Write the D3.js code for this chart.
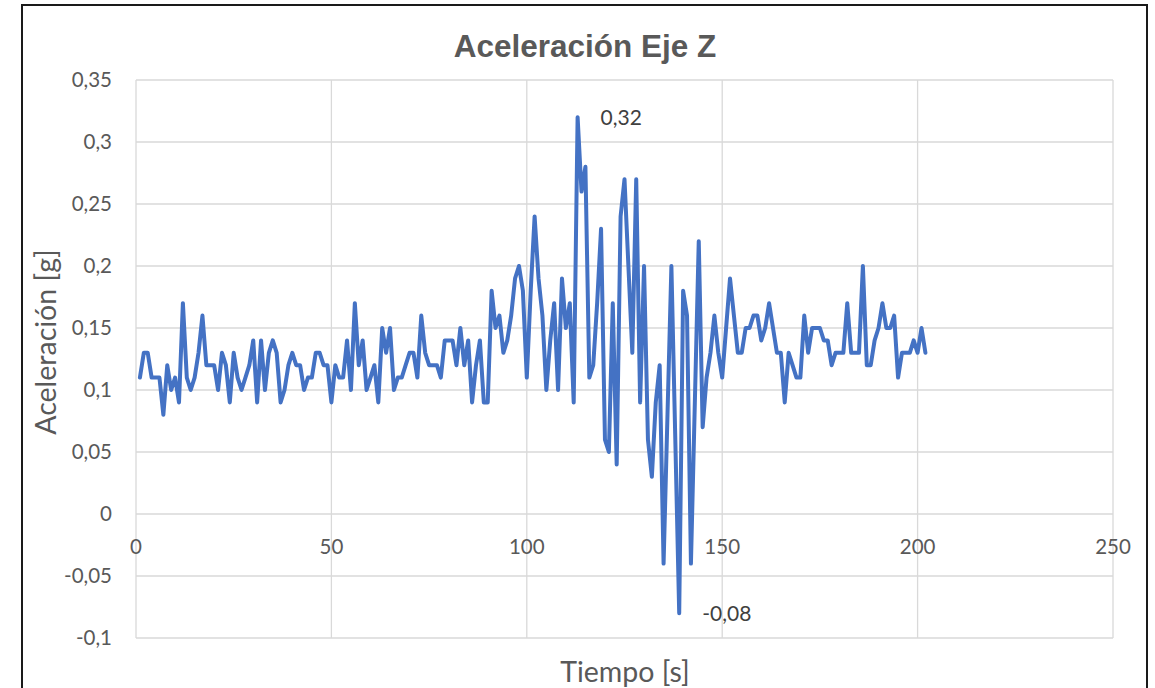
<!DOCTYPE html>
<html>
<head>
<meta charset="utf-8">
<script src="https://cdn.jsdelivr.net/npm/d3@7"></script>
<style>
  body { margin: 0; background: #fff; }
  .tick-label { font-family: Lato, "Open Sans", sans-serif; font-size: 20.5px; fill: #595959; }
  .axis-title { font-family: Lato, "Open Sans", sans-serif; font-size: 28.5px; fill: #595959; }
  .chart-title { font-family: "Liberation Sans", Arial, sans-serif; font-size: 31.5px; font-weight: bold; fill: #595959; }
  .data-label { font-family: Lato, "Open Sans", sans-serif; font-size: 21px; fill: #404040; }
</style>
</head>
<body>
<svg class="chart" width="1155" height="688"></svg>
<script>
"use strict";

// one sample per second, starting at t = 1 s
var startTime = 1;
var accel = [
  0.11, 0.13, 0.13, 0.11, 0.11, 0.11, 0.08, 0.12, 0.10, 0.11,
  0.09, 0.17, 0.11, 0.10, 0.11, 0.13, 0.16, 0.12, 0.12, 0.12,
  0.10, 0.13, 0.12, 0.09, 0.13, 0.11, 0.10, 0.11, 0.12, 0.14,
  0.09, 0.14, 0.10, 0.13, 0.14, 0.13, 0.09, 0.10, 0.12, 0.13,
  0.12, 0.12, 0.10, 0.11, 0.11, 0.13, 0.13, 0.12, 0.12, 0.09,
  0.12, 0.11, 0.11, 0.14, 0.10, 0.17, 0.12, 0.14, 0.10, 0.11,
  0.12, 0.09, 0.15, 0.13, 0.15, 0.10, 0.11, 0.11, 0.12, 0.13,
  0.13, 0.11, 0.16, 0.13, 0.12, 0.12, 0.12, 0.11, 0.14, 0.14,
  0.14, 0.12, 0.15, 0.12, 0.14, 0.09, 0.12, 0.14, 0.09, 0.09,
  0.18, 0.15, 0.16, 0.13, 0.14, 0.16, 0.19, 0.20, 0.18, 0.11,
  0.18, 0.24, 0.19, 0.16, 0.10, 0.14, 0.17, 0.10, 0.19, 0.15,
  0.17, 0.09, 0.32, 0.26, 0.28, 0.11, 0.12, 0.17, 0.23, 0.06,
  0.05, 0.17, 0.04, 0.24, 0.27, 0.20, 0.13, 0.27, 0.09, 0.20,
  0.06, 0.03, 0.09, 0.12, -0.04, 0.08, 0.20, 0.06, -0.08, 0.18,
  0.16, -0.04, 0.09, 0.22, 0.07, 0.11, 0.13, 0.16, 0.13, 0.11,
  0.15, 0.19, 0.16, 0.13, 0.13, 0.15, 0.15, 0.16, 0.16, 0.14,
  0.15, 0.17, 0.15, 0.13, 0.13, 0.09, 0.13, 0.12, 0.11, 0.11,
  0.16, 0.13, 0.15, 0.15, 0.15, 0.14, 0.14, 0.12, 0.13, 0.13,
  0.13, 0.17, 0.13, 0.13, 0.13, 0.20, 0.12, 0.12, 0.14, 0.15,
  0.17, 0.15, 0.15, 0.16, 0.11, 0.13, 0.13, 0.13, 0.14, 0.13,
  0.15, 0.13
];

var xTicks = [0, 50, 100, 150, 200, 250];
var yTicks = [0.35, 0.3, 0.25, 0.2, 0.15, 0.1, 0.05, 0, -0.05, -0.1];
var yTickLabels = ['0,35', '0,3', '0,25', '0,2', '0,15', '0,1', '0,05', '0', '-0,05', '-0,1'];

var labelled = [
  {'t': 113, 'text': '0,32'},
  {'t': 139, 'text': '-0,08'}
];

var data = accel.map(function (v, i) { return {'t': i + startTime, 'v': v}; });

var svg = d3.select('.chart');

var x = d3.scaleLinear().domain([0, 250]).range([136, 1113]);
var y = d3.scaleLinear().domain([-0.1, 0.35]).range([638, 80]);

// outer chart frame
svg.append('rect')
  .attr('x', 22).attr('y', 5)
  .attr('width', 1125).attr('height', 700)
  .attr('fill', 'none')
  .attr('stroke', '#1a1a1a')
  .attr('stroke-width', 2);

// gridlines
svg.append('g').selectAll('line')
  .data(yTicks)
  .enter().append('line')
  .attr('x1', x(0)).attr('x2', x(250))
  .attr('y1', function (d) { return y(d); })
  .attr('y2', function (d) { return y(d); })
  .attr('stroke', '#d9d9d9')
  .attr('stroke-width', 1.3);

svg.append('g').selectAll('line')
  .data(xTicks)
  .enter().append('line')
  .attr('x1', function (d) { return x(d); })
  .attr('x2', function (d) { return x(d); })
  .attr('y1', y(0.35)).attr('y2', y(-0.1))
  .attr('stroke', '#d9d9d9')
  .attr('stroke-width', 1.3);

// tick labels
svg.append('g').selectAll('text')
  .data(yTicks)
  .enter().append('text')
  .attr('class', 'tick-label')
  .attr('x', x(0) - 24)
  .attr('y', function (d) { return y(d); })
  .attr('dy', '0.35em')
  .attr('text-anchor', 'end')
  .text(function (d, i) { return yTickLabels[i]; });

svg.append('g').selectAll('text')
  .data(xTicks)
  .enter().append('text')
  .attr('class', 'tick-label')
  .attr('x', function (d) { return x(d); })
  .attr('y', y(0) + 40)
  .attr('text-anchor', 'middle')
  .text(function (d) { return d; });

// series
var line = d3.line()
  .x(function (d) { return x(d.t); })
  .y(function (d) { return y(d.v); });

svg.append('path')
  .datum(data)
  .attr('d', line)
  .attr('fill', 'none')
  .attr('stroke', '#4472c4')
  .attr('stroke-width', 4)
  .attr('stroke-linejoin', 'round')
  .attr('stroke-linecap', 'round');

// data labels for max / min
svg.append('g').selectAll('text')
  .data(labelled)
  .enter().append('text')
  .attr('class', 'data-label')
  .attr('x', function (d) { return x(d.t) + 23; })
  .attr('y', function (d) { return y(accel[d.t - startTime]); })
  .attr('dy', '0.35em')
  .text(function (d) { return d.text; });

// titles
svg.append('text')
  .attr('class', 'chart-title')
  .attr('x', 585).attr('y', 57)
  .attr('text-anchor', 'middle')
  .text('Aceleración Eje Z');

svg.append('text')
  .attr('class', 'axis-title')
  .attr('transform', 'translate(56,342) rotate(-90)')
  .attr('text-anchor', 'middle')
  .text('Aceleración [g]');

svg.append('text')
  .attr('class', 'axis-title')
  .attr('x', 625).attr('y', 682)
  .attr('text-anchor', 'middle')
  .text('Tiempo [s]');
</script>
</body>
</html>
